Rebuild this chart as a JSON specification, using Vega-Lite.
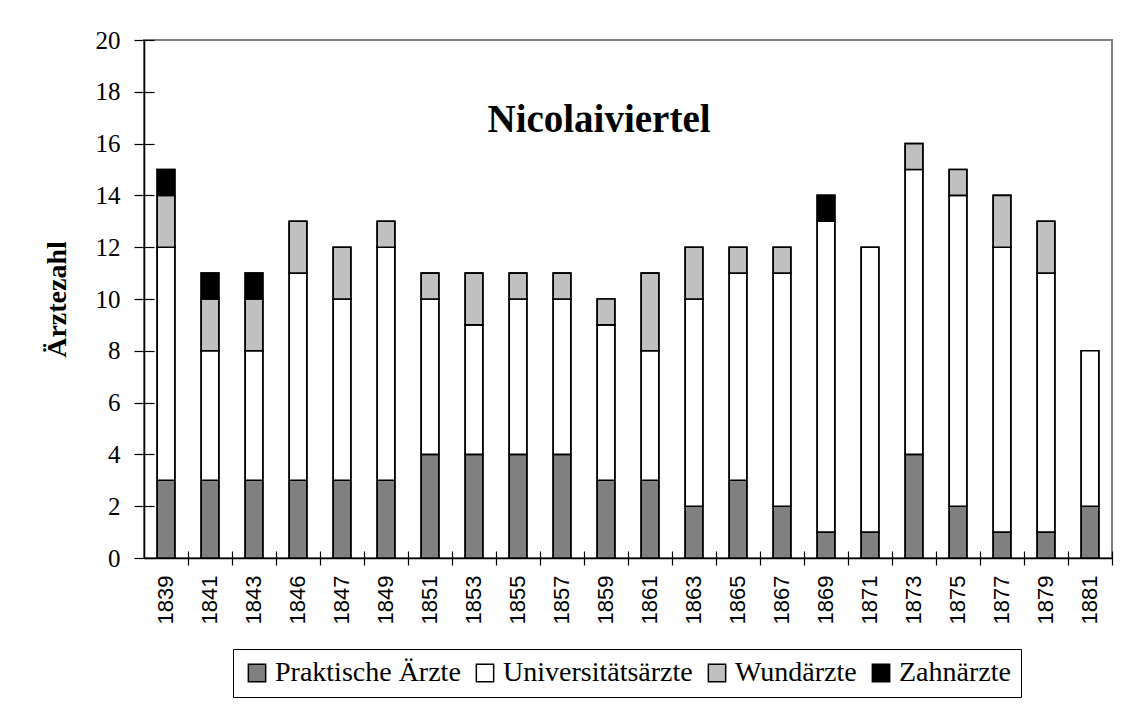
{
  "$schema": "https://vega.github.io/schema/vega-lite/v6.json",
  "width": 968,
  "height": 518,
  "autosize": {"type": "none"},
  "padding": {"left": 144, "top": 40, "right": 25, "bottom": 150},
  "background": "white",
  "config": {
    "view": {"stroke": "#808080", "strokeWidth": 2},
    "axis": {"grid": false, "domainColor": "black", "tickColor": "black", "domainWidth": 1.5, "tickWidth": 1.2}
  },
  "title": {
    "text": "Nicolaiviertel",
    "font": "Liberation Serif",
    "fontSize": 39,
    "fontWeight": "bold",
    "color": "black",
    "anchor": "middle",
    "baseline": "alphabetic",
    "offset": 0,
    "dx": -29,
    "dy": 143
  },
  "data": {
    "values": [
      {"jahr": "1839", "typ": "Praktische Ärzte", "anzahl": 3, "o": 1},
      {"jahr": "1839", "typ": "Universitätsärzte", "anzahl": 9, "o": 2},
      {"jahr": "1839", "typ": "Wundärzte", "anzahl": 2, "o": 3},
      {"jahr": "1839", "typ": "Zahnärzte", "anzahl": 1, "o": 4},
      {"jahr": "1841", "typ": "Praktische Ärzte", "anzahl": 3, "o": 1},
      {"jahr": "1841", "typ": "Universitätsärzte", "anzahl": 5, "o": 2},
      {"jahr": "1841", "typ": "Wundärzte", "anzahl": 2, "o": 3},
      {"jahr": "1841", "typ": "Zahnärzte", "anzahl": 1, "o": 4},
      {"jahr": "1843", "typ": "Praktische Ärzte", "anzahl": 3, "o": 1},
      {"jahr": "1843", "typ": "Universitätsärzte", "anzahl": 5, "o": 2},
      {"jahr": "1843", "typ": "Wundärzte", "anzahl": 2, "o": 3},
      {"jahr": "1843", "typ": "Zahnärzte", "anzahl": 1, "o": 4},
      {"jahr": "1846", "typ": "Praktische Ärzte", "anzahl": 3, "o": 1},
      {"jahr": "1846", "typ": "Universitätsärzte", "anzahl": 8, "o": 2},
      {"jahr": "1846", "typ": "Wundärzte", "anzahl": 2, "o": 3},
      {"jahr": "1847", "typ": "Praktische Ärzte", "anzahl": 3, "o": 1},
      {"jahr": "1847", "typ": "Universitätsärzte", "anzahl": 7, "o": 2},
      {"jahr": "1847", "typ": "Wundärzte", "anzahl": 2, "o": 3},
      {"jahr": "1849", "typ": "Praktische Ärzte", "anzahl": 3, "o": 1},
      {"jahr": "1849", "typ": "Universitätsärzte", "anzahl": 9, "o": 2},
      {"jahr": "1849", "typ": "Wundärzte", "anzahl": 1, "o": 3},
      {"jahr": "1851", "typ": "Praktische Ärzte", "anzahl": 4, "o": 1},
      {"jahr": "1851", "typ": "Universitätsärzte", "anzahl": 6, "o": 2},
      {"jahr": "1851", "typ": "Wundärzte", "anzahl": 1, "o": 3},
      {"jahr": "1853", "typ": "Praktische Ärzte", "anzahl": 4, "o": 1},
      {"jahr": "1853", "typ": "Universitätsärzte", "anzahl": 5, "o": 2},
      {"jahr": "1853", "typ": "Wundärzte", "anzahl": 2, "o": 3},
      {"jahr": "1855", "typ": "Praktische Ärzte", "anzahl": 4, "o": 1},
      {"jahr": "1855", "typ": "Universitätsärzte", "anzahl": 6, "o": 2},
      {"jahr": "1855", "typ": "Wundärzte", "anzahl": 1, "o": 3},
      {"jahr": "1857", "typ": "Praktische Ärzte", "anzahl": 4, "o": 1},
      {"jahr": "1857", "typ": "Universitätsärzte", "anzahl": 6, "o": 2},
      {"jahr": "1857", "typ": "Wundärzte", "anzahl": 1, "o": 3},
      {"jahr": "1859", "typ": "Praktische Ärzte", "anzahl": 3, "o": 1},
      {"jahr": "1859", "typ": "Universitätsärzte", "anzahl": 6, "o": 2},
      {"jahr": "1859", "typ": "Wundärzte", "anzahl": 1, "o": 3},
      {"jahr": "1861", "typ": "Praktische Ärzte", "anzahl": 3, "o": 1},
      {"jahr": "1861", "typ": "Universitätsärzte", "anzahl": 5, "o": 2},
      {"jahr": "1861", "typ": "Wundärzte", "anzahl": 3, "o": 3},
      {"jahr": "1863", "typ": "Praktische Ärzte", "anzahl": 2, "o": 1},
      {"jahr": "1863", "typ": "Universitätsärzte", "anzahl": 8, "o": 2},
      {"jahr": "1863", "typ": "Wundärzte", "anzahl": 2, "o": 3},
      {"jahr": "1865", "typ": "Praktische Ärzte", "anzahl": 3, "o": 1},
      {"jahr": "1865", "typ": "Universitätsärzte", "anzahl": 8, "o": 2},
      {"jahr": "1865", "typ": "Wundärzte", "anzahl": 1, "o": 3},
      {"jahr": "1867", "typ": "Praktische Ärzte", "anzahl": 2, "o": 1},
      {"jahr": "1867", "typ": "Universitätsärzte", "anzahl": 9, "o": 2},
      {"jahr": "1867", "typ": "Wundärzte", "anzahl": 1, "o": 3},
      {"jahr": "1869", "typ": "Praktische Ärzte", "anzahl": 1, "o": 1},
      {"jahr": "1869", "typ": "Universitätsärzte", "anzahl": 12, "o": 2},
      {"jahr": "1869", "typ": "Zahnärzte", "anzahl": 1, "o": 4},
      {"jahr": "1871", "typ": "Praktische Ärzte", "anzahl": 1, "o": 1},
      {"jahr": "1871", "typ": "Universitätsärzte", "anzahl": 11, "o": 2},
      {"jahr": "1873", "typ": "Praktische Ärzte", "anzahl": 4, "o": 1},
      {"jahr": "1873", "typ": "Universitätsärzte", "anzahl": 11, "o": 2},
      {"jahr": "1873", "typ": "Wundärzte", "anzahl": 1, "o": 3},
      {"jahr": "1875", "typ": "Praktische Ärzte", "anzahl": 2, "o": 1},
      {"jahr": "1875", "typ": "Universitätsärzte", "anzahl": 12, "o": 2},
      {"jahr": "1875", "typ": "Wundärzte", "anzahl": 1, "o": 3},
      {"jahr": "1877", "typ": "Praktische Ärzte", "anzahl": 1, "o": 1},
      {"jahr": "1877", "typ": "Universitätsärzte", "anzahl": 11, "o": 2},
      {"jahr": "1877", "typ": "Wundärzte", "anzahl": 2, "o": 3},
      {"jahr": "1879", "typ": "Praktische Ärzte", "anzahl": 1, "o": 1},
      {"jahr": "1879", "typ": "Universitätsärzte", "anzahl": 10, "o": 2},
      {"jahr": "1879", "typ": "Wundärzte", "anzahl": 2, "o": 3},
      {"jahr": "1881", "typ": "Praktische Ärzte", "anzahl": 2, "o": 1},
      {"jahr": "1881", "typ": "Universitätsärzte", "anzahl": 6, "o": 2}
    ]
  },
  "layer": [
    {
      "mark": {"type": "bar", "stroke": "black", "strokeWidth": 1.6, "opacity": 1},
      "encoding": {
        "x": {
          "field": "jahr", "type": "ordinal",
          "scale": {"paddingInner": 0.6, "paddingOuter": 0.3},
          "axis": {
            "orient": "bottom", "title": null, "tickSize": 7, "bandPosition": 1.75,
            "labelAngle": 270, "labelFont": "Liberation Sans", "labelFontSize": 22,
            "labelColor": "black", "labelPadding": 10
          }
        },
        "y": {
          "field": "anzahl", "type": "quantitative", "stack": "zero",
          "scale": {"domain": [0, 20], "nice": false},
          "axis": {
            "orient": "left", "values": [0, 2, 4, 6, 8, 10, 12, 14, 16, 18, 20],
            "tickSize": 10, "labelFont": "Liberation Serif", "labelFontSize": 25,
            "labelColor": "black", "labelPadding": 14,
            "title": "Ärztezahl", "titleFont": "Liberation Serif", "titleFontSize": 28,
            "titleFontWeight": "bold", "titleColor": "black", "titlePadding": 24
          }
        },
        "color": {
          "field": "typ", "type": "nominal",
          "scale": {
            "domain": ["Praktische Ärzte", "Universitätsärzte", "Wundärzte", "Zahnärzte"],
            "range": ["#808080", "#ffffff", "#c0c0c0", "#000000"]
          },
          "legend": {
            "title": null, "orient": "none", "legendX": 89, "legendY": 609,
            "direction": "horizontal", "strokeColor": "black", "padding": 10,
            "symbolType": "square", "symbolSize": 300, "symbolStrokeColor": "black",
            "symbolStrokeWidth": 1.5, "symbolOpacity": 1,
            "labelFont": "Liberation Serif", "labelFontSize": 28, "labelColor": "black",
            "labelOffset": 4, "columnPadding": 10, "labelLimit": 400
          }
        },
        "order": {"field": "o", "type": "quantitative"}
      }
    },
    {
      "mark": {"type": "bar", "stroke": "black", "strokeWidth": 1.6, "opacity": 1},
      "encoding": {
        "x": {
          "field": "jahr", "type": "ordinal",
          "scale": {"paddingInner": 0.6, "paddingOuter": 0.3},
          "axis": {
            "orient": "bottom", "title": null, "tickSize": 7, "bandPosition": 1.75,
            "offset": -7, "labels": false, "domain": false
          }
        },
        "y": {
          "field": "anzahl", "type": "quantitative", "stack": "zero",
          "scale": {"domain": [0, 20], "nice": false},
          "axis": {
            "orient": "left", "values": [0, 2, 4, 6, 8, 10, 12, 14, 16, 18, 20],
            "tickSize": 10, "offset": -10, "labels": false, "domain": false, "title": null
          }
        },
        "color": {
          "field": "typ", "type": "nominal",
          "scale": {
            "domain": ["Praktische Ärzte", "Universitätsärzte", "Wundärzte", "Zahnärzte"],
            "range": ["#808080", "#ffffff", "#c0c0c0", "#000000"]
          },
          "legend": {
            "title": null, "orient": "none", "legendX": 89, "legendY": 609,
            "direction": "horizontal", "strokeColor": "black", "padding": 10,
            "symbolType": "square", "symbolSize": 300, "symbolStrokeColor": "black",
            "symbolStrokeWidth": 1.5, "symbolOpacity": 1,
            "labelFont": "Liberation Serif", "labelFontSize": 28, "labelColor": "black",
            "labelOffset": 4, "columnPadding": 10, "labelLimit": 400
          }
        },
        "order": {"field": "o", "type": "quantitative"}
      }
    }
  ],
  "resolve": {"axis": {"x": "independent", "y": "independent"}}
}
